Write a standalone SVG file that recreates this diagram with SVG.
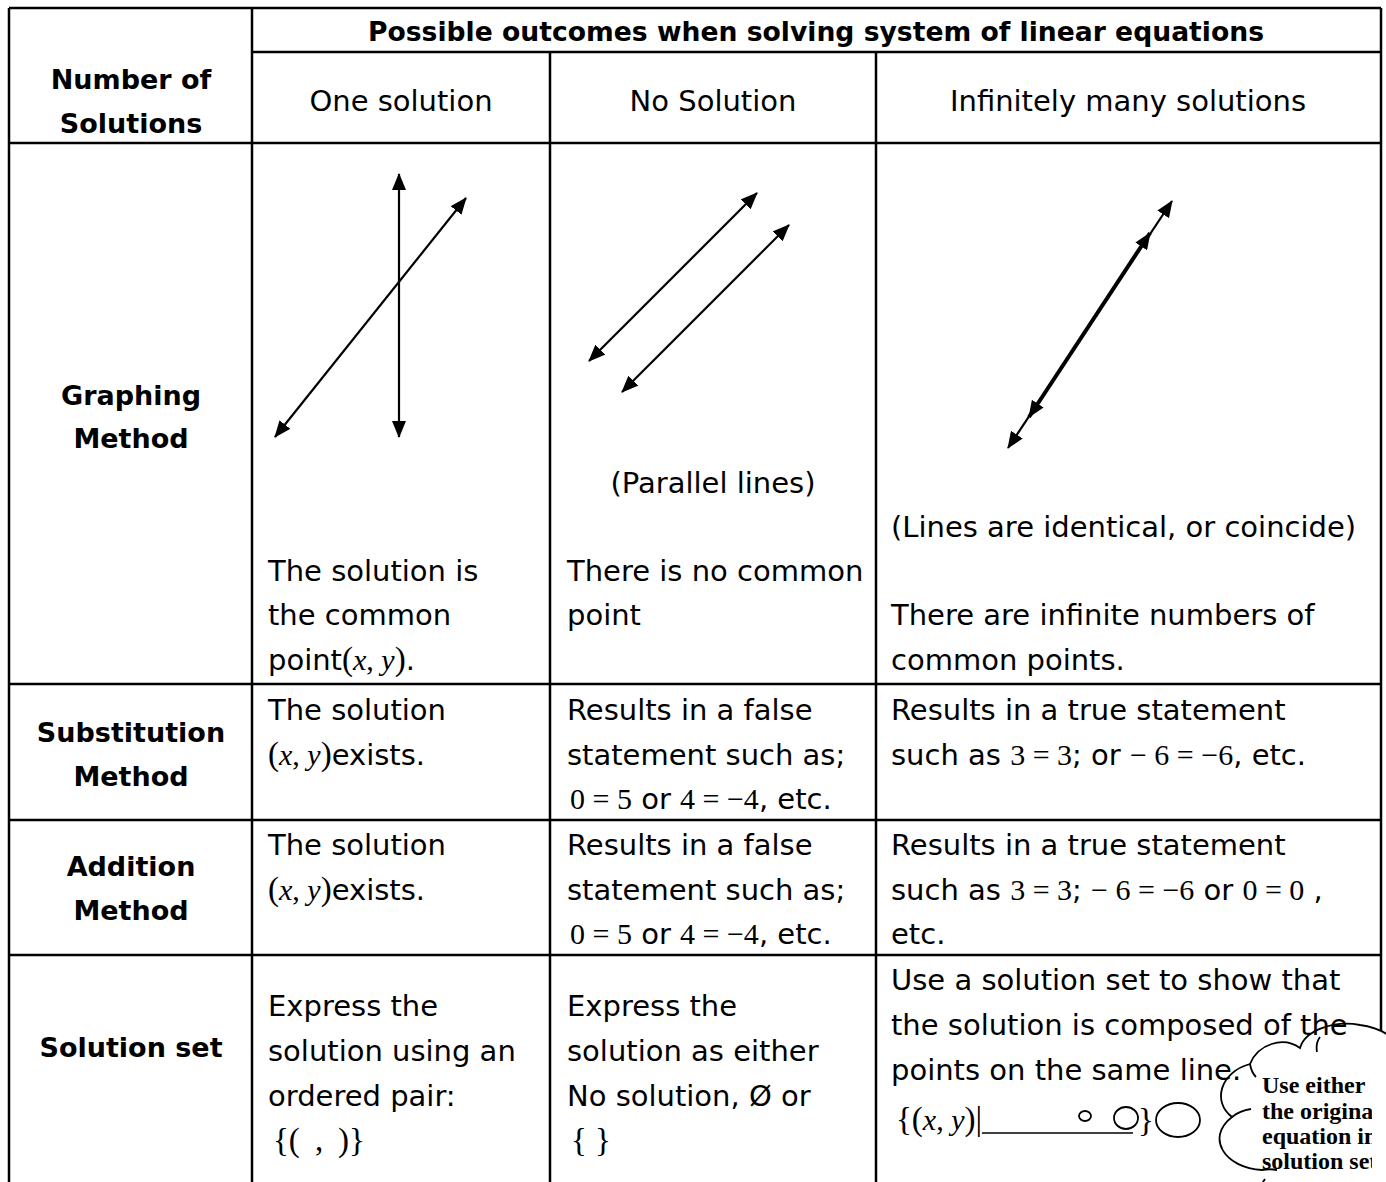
<svg xmlns="http://www.w3.org/2000/svg" width="1386" height="1182" viewBox="0 0 1386 1182">
<defs>
<style>
.t{font-family:"DejaVu Sans","Liberation Sans",sans-serif;font-size:29px;fill:#000}
.h{font-family:"DejaVu Sans","Liberation Sans",sans-serif;font-size:29px;fill:#000;text-anchor:middle}
.b{font-family:"DejaVu Sans","Liberation Sans",sans-serif;font-weight:bold;font-size:27px;fill:#000;text-anchor:middle}
.m{font-family:"Liberation Serif","Times New Roman",serif;font-size:30px}
.p{font-size:33px}
.i{font-style:italic}
.c{font-family:"Liberation Serif","Times New Roman",serif;font-weight:bold;font-size:24px;fill:#000}
.grid{stroke:#000;stroke-width:2.5;fill:none}
.ar{stroke:#000;stroke-width:2.2;fill:none;marker-start:url(#ah);marker-end:url(#ah)}
.ar2{stroke:#000;stroke-width:4;fill:none;marker-start:url(#ah);marker-end:url(#ah)}
.cl{stroke:#000;stroke-width:1.8;fill:none}
</style>
<marker id="ah" viewBox="0 0 17 14" refX="16" refY="7" markerWidth="17" markerHeight="14" markerUnits="userSpaceOnUse" orient="auto-start-reverse">
<path d="M0,0 L17,7 L0,14 Z" fill="#000"/>
</marker>
<clipPath id="cloudclip"><rect x="1200" y="1040" width="172" height="150"/></clipPath>
</defs>
<rect width="1386" height="1182" fill="#fff"/>

<g id="table-grid" class="grid">
<line x1="9" y1="8" x2="1381" y2="8"/>
<line x1="252" y1="52" x2="1381" y2="52"/>
<line x1="9" y1="143" x2="1381" y2="143"/>
<line x1="9" y1="684" x2="1381" y2="684"/>
<line x1="9" y1="820" x2="1381" y2="820"/>
<line x1="9" y1="955" x2="1381" y2="955"/>
<line x1="9" y1="8" x2="9" y2="1190"/>
<line x1="252" y1="8" x2="252" y2="1190"/>
<line x1="550" y1="52" x2="550" y2="1190"/>
<line x1="876" y1="52" x2="876" y2="1190"/>
<line x1="1381" y1="8" x2="1381" y2="1190"/>
</g>

<g id="callout-cloud">
<path d="M1262,1170 C1225,1168 1205,1138 1232,1117 C1212,1102 1220,1072 1250,1064 C1258,1044 1283,1036 1300,1048 C1305,1030 1335,1020 1360,1025 C1375,1027 1386,1032 1394,1040 L1394,1190 L1262,1190 Z" fill="#fff"/>
<path class="cl" d="M1262,1170 C1225,1168 1205,1138 1232,1117 C1212,1102 1220,1072 1250,1064 C1258,1044 1283,1036 1300,1048 C1305,1030 1335,1020 1360,1025 C1375,1027 1386,1032 1394,1040"/>
<path class="cl" d="M1232,1117 C1238,1112 1244,1110 1251,1109 M1250,1064 C1251,1070 1253,1074 1256,1077 M1317,1052 C1316,1046 1317,1041 1320,1037 M1262,1170 C1267,1169 1272,1169 1277,1170 M1265,1179 L1261,1185"/>
<g clip-path="url(#cloudclip)">
<text class="c" x="1262" y="1093">Use either</text>
<text class="c" x="1262" y="1119">the original</text>
<text class="c" x="1262" y="1144">equation in</text>
<text class="c" x="1262" y="1169">solution set</text>
</g>
</g>

<g id="header">
<text class="b" x="816" y="41" textLength="896" lengthAdjust="spacingAndGlyphs">Possible outcomes when solving system of linear equations</text>
</g>

<g id="label-number">
<text class="b" x="131" y="89">Number of</text>
<text class="b" x="131" y="133">Solutions</text>
</g>
<g id="col-one"><text class="h" x="401" y="111">One solution</text></g>
<g id="col-none"><text class="h" x="713" y="111">No Solution</text></g>
<g id="col-inf"><text class="h" x="1128" y="111">Infinitely many solutions</text></g>

<g id="label-graphing">
<text class="b" x="131" y="405">Graphing</text>
<text class="b" x="131" y="448">Method</text>
</g>

<g id="graph-one">
<text class="t" x="268" y="581">The solution is</text>
<text class="t" x="268" y="625">the common</text>
<text class="t" x="268" y="670">point<tspan class="m"><tspan class="p">(</tspan><tspan class="i">x</tspan>, <tspan class="i">y</tspan><tspan class="p">)</tspan></tspan>.</text>
</g>
<g id="graph-none">
<text class="h" x="713" y="493">(Parallel lines)</text>
<text class="t" x="567" y="581">There is no common</text>
<text class="t" x="567" y="625">point</text>
</g>
<g id="graph-inf">
<text class="t" x="891" y="537">(Lines are identical, or coincide)</text>
<text class="t" x="891" y="625">There are infinite numbers of</text>
<text class="t" x="891" y="670">common points.</text>
</g>

<g id="connectors">
<line class="ar" x1="399" y1="437" x2="399" y2="174"/>
<line class="ar" x1="275" y1="437" x2="466" y2="198"/>
<line class="ar" x1="589" y1="361" x2="757" y2="193"/>
<line class="ar" x1="622" y1="392" x2="789" y2="225"/>
<line class="ar" x1="1008" y1="448" x2="1172" y2="201"/>
<line class="ar2" x1="1029" y1="417" x2="1150" y2="233"/>
</g>

<g id="label-substitution">
<text class="b" x="131" y="742">Substitution</text>
<text class="b" x="131" y="786">Method</text>
</g>
<g id="sub-one">
<text class="t" x="268" y="720">The solution</text>
<text class="t" x="268" y="765"><tspan class="m"><tspan class="p">(</tspan><tspan class="i">x</tspan>, <tspan class="i">y</tspan><tspan class="p">)</tspan></tspan>exists.</text>
</g>
<g id="sub-none">
<text class="t" x="567" y="720">Results in a false</text>
<text class="t" x="567" y="765">statement such as;</text>
<text class="t" x="570" y="809"><tspan class="m">0 = 5</tspan>  or  <tspan class="m">4 = −4</tspan>, etc.</text>
</g>
<g id="sub-inf">
<text class="t" x="891" y="720">Results in a true statement</text>
<text class="t" x="891" y="765">such as <tspan class="m">3 = 3</tspan>; or  <tspan class="m">− 6 = −6</tspan>, etc.</text>
</g>

<g id="label-addition">
<text class="b" x="131" y="876">Addition</text>
<text class="b" x="131" y="920">Method</text>
</g>
<g id="add-one">
<text class="t" x="268" y="855">The solution</text>
<text class="t" x="268" y="900"><tspan class="m"><tspan class="p">(</tspan><tspan class="i">x</tspan>, <tspan class="i">y</tspan><tspan class="p">)</tspan></tspan>exists.</text>
</g>
<g id="add-none">
<text class="t" x="567" y="855">Results in a false</text>
<text class="t" x="567" y="900">statement such as;</text>
<text class="t" x="570" y="944"><tspan class="m">0 = 5</tspan>  or  <tspan class="m">4 = −4</tspan>, etc.</text>
</g>
<g id="add-inf">
<text class="t" x="891" y="855">Results in a true statement</text>
<text class="t" x="891" y="900">such as <tspan class="m">3 = 3</tspan>;  <tspan class="m">− 6 = −6</tspan>  or  <tspan class="m">0 = 0</tspan> ,</text>
<text class="t" x="891" y="944">etc.</text>
</g>

<g id="label-solset">
<text class="b" x="131" y="1057">Solution set</text>
</g>
<g id="set-one">
<text class="t" x="268" y="1016">Express the</text>
<text class="t" x="268" y="1061">solution using an</text>
<text class="t" x="268" y="1106">ordered pair:</text>
<text class="m p" x="273" y="1151">{(<tspan x="315">,</tspan><tspan x="338">)}</tspan></text>
</g>
<g id="set-none">
<text class="t" x="567" y="1016">Express the</text>
<text class="t" x="567" y="1061">solution as either</text>
<text class="t" x="567" y="1106">No solution,  Ø or</text>
<text class="m p" x="571" y="1151">{ }</text>
</g>
<g id="set-inf">
<text class="t" x="891" y="990">Use a solution set to show that</text>
<text class="t" x="891" y="1035">the solution is composed of the</text>
<text class="t" x="891" y="1080">points on the same line.</text>
<text class="m" x="896" y="1130"><tspan class="p">{(</tspan><tspan class="i">x</tspan>, <tspan class="i">y</tspan><tspan class="p">)|</tspan></text>
<line x1="982" y1="1133" x2="1133" y2="1133" stroke="#000" stroke-width="1.5"/>
<text class="m p" x="1138" y="1131">}</text>
<ellipse cx="1085" cy="1116" rx="6" ry="5" class="cl"/>
<ellipse cx="1126" cy="1118" rx="12" ry="11" class="cl"/>
<ellipse cx="1178" cy="1120" rx="22" ry="17" class="cl"/>
</g>
</svg>
